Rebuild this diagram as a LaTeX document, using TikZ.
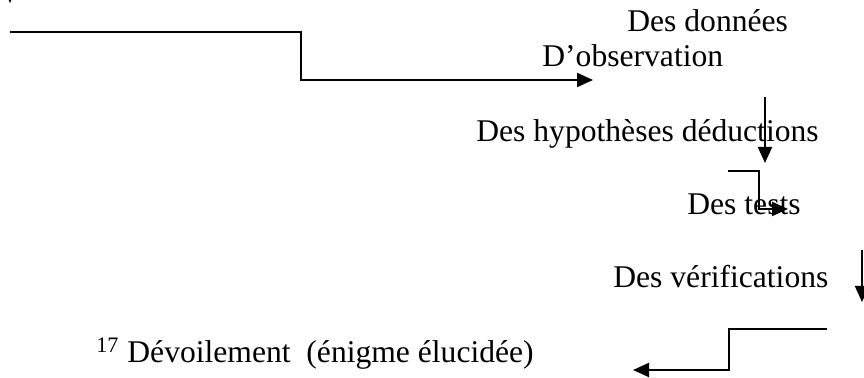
\documentclass[tikz,border=0pt]{standalone}
\usepackage{fontspec}
\setmainfont{Liberation Serif}
\usepackage{tikz}
\usetikzlibrary{arrows.meta}

\begin{document}
\begin{tikzpicture}[
    x=0.5pt, y=-0.5pt,
    lbl/.style={anchor=base west, inner sep=0pt, font=\fontsize{15.8}{18}\selectfont},
    arrow/.style={-{Triangle[length=8pt,width=7pt]}, line width=1pt},
    line/.style={line width=1pt}
  ]
    \useasboundingbox (0,0) rectangle (864,378);
    \node[lbl] (donnees) at (627,32) {Des données};
    \node[lbl] (obs) at (542,67) {D’observation};
    \node[lbl] (hyp) at (476,142) {Des hypothèses déductions};
    \node[lbl] (tests) at (687,215) {Des tests};
    \node[lbl] (verif) at (613,288) {Des vérifications};
    \node[lbl] (devoil) at (96,363) {\textsuperscript{17} Dévoilement\ \ (énigme élucidée)};
    % free ends of the connectors
    \coordinate (top) at (10,-20);
    \coordinate (topend) at (10,3);
    \coordinate (start) at (10,32);
    \coordinate (step) at (301,80);
    \coordinate (obsend) at (593,80);
    \coordinate (hypin) at (765,97);
    \coordinate (hypout) at (765,163);
    \coordinate (testin) at (728,171);
    \coordinate (testcorner) at (759,209);
    \coordinate (testout) at (788,209);
    \coordinate (verin) at (862,250);
    \coordinate (verout) at (862,302);
    \coordinate (devin) at (827,329);
    \coordinate (devcorner) at (729,370);
    \coordinate (devout) at (633,370);
    \draw[arrow] (top) -- (topend);
    \draw[arrow] (start) -| (step) -- (obsend);
    \draw[arrow] (hypin) -- (hypout);
    \draw[arrow] (testin) -| (testcorner) -- (testout);
    \draw[arrow] (verin) -- (verout);
    \draw[arrow] (devin) -| (devcorner) -- (devout);
  \end{tikzpicture}
\end{document}
